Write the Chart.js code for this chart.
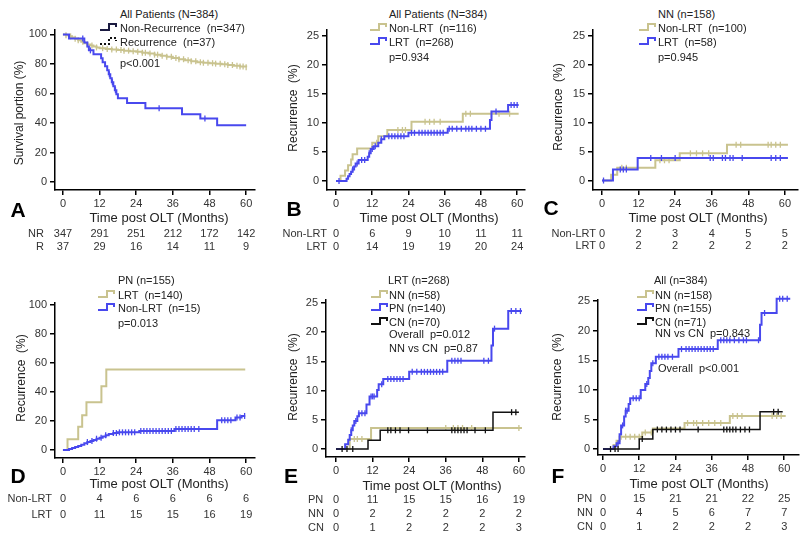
<!DOCTYPE html>
<html>
<head>
<meta charset="utf-8">
<script src="https://cdn.jsdelivr.net/npm/chart.js@4.4.0/dist/chart.umd.min.js"></script>
<style>
    html, body { margin: 0; padding: 0; background: #fff; }
    #page {
        position: relative; width: 800px; height: 536px; overflow: hidden; background: #fff;
        font-family: Arial, "Liberation Sans", sans-serif; color: #222;
    }
    #page canvas { position: absolute; }
    .t { position: absolute; white-space: pre; line-height: 1; }
    .sym { position: absolute; }
</style>
</head>
<body>
<div id="page"></div>
<script>
// ---- 刻度 ----
const monthTicks = [0, 12, 24, 36, 48, 60];
const survivalTicks = [0, 20, 40, 60, 80, 100];
const recurrenceTicks = [0, 5, 10, 15, 20, 25];

// ---- A: 生存曲线 [月, %] ----
const aNonRecurrence = [[0,100],[1,99.4],[2,98.7],[3,97.9],[4,97],[5,96],[6,95],[7,94],[8,93.2],[9,92.5],[10,91.8],[11,91.2],[12,90.7],[14,90.2],[16,89.8],[18,89.4],[20,89],[22,88.6],[24,88.2],[26,87.6],[28,87],[30,86.3],[32,85.5],[34,84.8],[36,84],[38,83.2],[40,82.5],[42,81.8],[44,81.2],[46,80.8],[48,80.5],[50,80.2],[52,79.8],[54,79.3],[56,78.8],[58,78.3],[60,77.8]];
const aNonRecurrenceCensor = [1,2.5,4,5,6.5,8,9.5,11,13,14.5,16,17.5,19,20,21.5,23,24.5,26,27,28.5,30,31,32.5,34,35.5,37,38,39.5,41,42,43.5,45,46,47.5,49,50,51.5,53,54,55.5,57,58,59,60];
const aRecurrence = [[0,100],[2,97.3],[7,94.6],[8,91.9],[8.5,89.2],[10,86.5],[12.5,83.8],[13,81.1],[13.8,78.4],[14.5,75.7],[15,73],[15.5,70.3],[16,67.6],[16.5,64.9],[17,62.2],[17.5,59.5],[18,56.8],[21,53.5],[27,50],[39,46],[45,43],[50.5,38.5],[60,38.5]];
const aRecurrenceCensor = [6.5, 9, 15.2, 16.2, 17.2, 31.5, 46.5];
const riskA_NR = [347, 291, 251, 212, 172, 142];
const riskA_R = [37, 29, 16, 14, 11, 9];

// ---- B: 全部患者 ----
const bNonLrt = [[0,0],[1.5,0.9],[3,1.8],[4,2.7],[5,3.7],[5.5,4.6],[7,5.6],[12,6.6],[14,7.7],[17,8.8],[25,10.2],[42,11.6],[60.5,11.6]];
const bNonLrtCensor = [13.5, 20.5, 22, 23, 29.5, 31, 32.5, 34.5, 43, 44.5, 51.5, 54, 57.5];
const bLrt = [[0,0],[3.5,0.4],[4,0.8],[4.5,1.2],[5,1.6],[5.5,2.0],[6,2.5],[6.5,3.0],[7.5,3.6],[10.5,4.2],[11,4.8],[11.5,5.5],[12.5,6.0],[14,6.6],[15,7.2],[16,7.7],[24,8.3],[37,9.0],[51,10.5],[51.5,12.0],[57,13.1],[60.5,13.1]];
const bLrtCensor = [1,5.5,7,8.5,9.5,11,12,13,15,17.5,18.5,19.5,20.5,21.5,22.5,25,26,27.5,28.5,29.5,30.5,31.5,32.5,33.5,34.5,35.5,37.5,38.5,40,41.5,43,44,45,46.5,48,49.5,53,58,59,60];
const riskB_NonLrt = [0, 6, 9, 10, 11, 11];
const riskB_Lrt = [0, 14, 19, 19, 20, 24];

// ---- C: NN ----
const cNonLrt = [[0,0],[3,1.0],[5,2.2],[17.5,3.5],[25.5,4.7],[41,6.2],[61,6.2]];
const cNonLrtCensor = [6.5, 8, 19, 20.5, 22, 29, 31, 33, 35, 44, 45.5, 54.5, 55.5, 57, 58.5];
const cLrt = [[0,0],[3.6,1.9],[11.7,3.9],[61,3.9]];
const cLrtCensor = [0.5, 6, 7, 8, 16, 19.5, 24, 35.5, 36.5, 39.5, 40.5, 42, 43, 46, 55.5, 57, 58.5];
const riskC_NonLrt = [0, 2, 3, 4, 5, 5];
const riskC_Lrt = [0, 2, 2, 2, 2, 2];

// ---- D: PN ----
const dLrt = [[0,0],[1.5,7.5],[5,16],[6.3,24],[7.7,33],[12.6,44],[14.2,55.5],[59.7,55.5]];
const dNonLrt = [[0,0],[2,0.7],[3,1.4],[4,2.1],[5,2.8],[6,3.6],[7,4.6],[8,5.5],[9,6.2],[10,7],[11,7.8],[12,8.5],[13,9.3],[14,10.2],[15,11],[16.5,11.7],[18,12.2],[25,13.2],[36.5,14.5],[50.5,20.5],[56.5,22.5],[58.5,23.5],[59.7,23.5]];
const dNonLrtCensor = [8,9.5,11,12.5,14,16.5,17.5,18.5,19.5,20.5,21.5,22.5,23.5,25.5,26.5,27.5,28.5,29.5,30.5,31.5,32.5,33.5,34.5,35.5,37,38,39,40,41,42,43,44.5,52,53,54,55,57,58,59.5];
const riskD_NonLrt = [0, 4, 6, 6, 6, 6];
const riskD_Lrt = [0, 11, 15, 15, 16, 19];

// ---- E: LRT ----
const eNN = [[0,0],[4.5,1.7],[11.5,3.6],[61,3.6]];
const eNNCensor = [6, 7, 8.5, 36, 38.5, 40, 41.5, 44.5, 60];
const ePN = [[0,0],[3,0.8],[4,1.6],[4.5,2.4],[5,3.2],[5.5,4.0],[6,4.8],[7,5.6],[7.5,6.1],[10,7.6],[11,9.0],[13.5,10.1],[14,11.1],[15.5,12.0],[24,13.2],[36.5,15.1],[51,17.7],[51.5,20.6],[56.5,23.6],[61,23.6]];
const ePNCensor = [5,6.5,7.5,8.5,9.5,11.5,12,12.5,15,17,18,19,20,21,22,25,26.5,28,29,30,31,32,33,34,35,38,39,40,41,48.5,50,52,57.5,59,60.5];
const eCN = [[0,0],[10.5,1.5],[14.5,3.2],[51.5,6.3],[60,6.3]];
const eCNCensor = [2, 3.6, 5.5, 17, 18, 19.5, 21, 23.8, 30, 38, 39, 40, 41, 42, 43, 45.6, 49, 57.6, 59];
const riskE_PN = [0, 11, 15, 15, 16, 19];
const riskE_NN = [0, 2, 2, 2, 2, 2];
const riskE_CN = [0, 1, 2, 2, 2, 3];

// ---- F: 全部 ----
const fNN = [[0,0],[3.5,0.7],[4.5,1.4],[5.5,2.1],[13,2.8],[16.5,3.5],[27,4.4],[42,5.6],[60.5,5.6]];
const fNNCensor = [6, 7.5, 9, 10.5, 12, 14, 16, 28, 30, 31, 33, 35, 37, 39, 43, 44.5, 46, 56, 57.5, 59];
const fPN = [[0,0],[3.5,0.5],[4.5,1.0],[5.5,2.5],[6,4.0],[7,5.5],[7.5,6.5],[8.5,7.6],[9,8.6],[12.5,10.0],[14,11.0],[15,12.0],[15.5,13.2],[16,14.5],[17.5,15.6],[25,16.9],[38,18.4],[52,21.0],[52.5,23.0],[57.5,25.4],[62,25.4]];
const fPNCensor = [5,6.5,7.5,8,10,11,12,14.5,16.5,18.5,19.5,20.5,21.5,23,26,27.5,28.5,29.5,30.5,31.5,32.5,33.5,34.5,35.5,36.5,39,40,41,42,43.5,45,46.5,47.5,51.5,53.5,58.5,59.5,61];
const fCN = [[0,0],[12,1.7],[16.5,3.3],[52,6.3],[59.5,6.3]];
const fCNCensor = [2.5, 4, 5, 13, 18, 19.5, 21, 22.5, 24, 25.5, 31.5, 40, 41, 42, 43, 44, 45.5, 47, 48.5, 56.5, 58];
const riskF_PN = [0, 15, 21, 21, 22, 25];
const riskF_NN = [0, 4, 5, 6, 7, 7];
const riskF_CN = [0, 1, 2, 2, 2, 3];

// 颜色
const YELLOW = '#c9c38f';
const BLUE = '#4848ee';
const BLACK = '#111111';

const page = document.getElementById('page');
Chart.defaults.font.family = 'Arial, "Liberation Sans", sans-serif';

document.addEventListener('DOMContentLoaded', function() {
    // A
    const chartA = makePanel({ axisX: 55, axisTop: 30, axisBottom: 190, axisRight: 255,
        xMin: -2.6, xMax: 62.9, yMin: -5.4, yMax: 103, yTicks: survivalTicks,
        curves: [
            { points: aNonRecurrence, censor: aNonRecurrenceCensor, color: YELLOW, width: 2 },
            { points: aRecurrence, censor: aRecurrenceCensor, color: BLUE, width: 2 }
        ] });
    addText(19, 113, 'Survival portion (%)', { size: 12, rotate: true });
    addText(120, 14, 'All Patients (N=384)');
    addSymbol(100, 28, '#1a1a40', false);
    addText(120, 28, 'Non-Recurrence  (n=347)');
    addSymbol(100, 42, '#111', true);
    addText(120, 42, 'Recurrence  (n=37)');
    addText(120, 63, 'p<0.001');
    addText(18, 209, 'A', { size: 21, bold: true, align: 'center', color: '#000' });
    addText(159, 217, 'Time post OLT (Months)', { size: 13, align: 'center' });
    riskTable(chartA, 44, [['NR', riskA_NR, 233], ['R', riskA_R, 246]]);

    // B
    const chartB = makePanel({ axisX: 327, axisTop: 30, axisBottom: 190, axisRight: 525,
        xMin: -2.98, xMax: 62.6, yMin: -1.55, yMax: 26.03, yTicks: recurrenceTicks,
        curves: [
            { points: bNonLrt, censor: bNonLrtCensor, color: YELLOW, width: 2 },
            { points: bLrt, censor: bLrtCensor, color: BLUE, width: 2 }
        ] });
    addText(293, 108, 'Recurrence  (%)', { size: 12, rotate: true });
    addText(389, 14, 'All Patients (N=384)');
    addSymbol(370, 28, YELLOW, false);
    addText(389, 28, 'Non-LRT  (n=116)');
    addSymbol(370, 42, BLUE, false);
    addText(389, 42, 'LRT  (n=268)');
    addText(389, 57, 'p=0.934');
    addText(294, 208, 'B', { size: 21, bold: true, align: 'center', color: '#000' });
    addText(429, 217, 'Time post OLT (Months)', { size: 13, align: 'center' });
    riskTable(chartB, 327, [['Non-LRT', riskB_NonLrt, 233], ['LRT', riskB_Lrt, 246]]);

    // C
    const chartC = makePanel({ axisX: 593, axisTop: 30, axisBottom: 190, axisRight: 798,
        xMin: -2.95, xMax: 64.3, yMin: -1.64, yMax: 26.04, yTicks: recurrenceTicks,
        curves: [
            { points: cNonLrt, censor: cNonLrtCensor, color: YELLOW, width: 2 },
            { points: cLrt, censor: cLrtCensor, color: BLUE, width: 2 }
        ] });
    addText(558, 107, 'Recurrence  (%)', { size: 12, rotate: true });
    addText(658, 14, 'NN (n=158)');
    addSymbol(639, 28, YELLOW, false);
    addText(658, 28, 'Non-LRT  (n=100)');
    addSymbol(639, 42, BLUE, false);
    addText(658, 42, 'LRT  (n=58)');
    addText(658, 57, 'p=0.945');
    addText(551, 207, 'C', { size: 21, bold: true, align: 'center', color: '#000' });
    addText(698, 217, 'Time post OLT (Months)', { size: 13, align: 'center' });
    riskTable(chartC, 596, [['Non-LRT', riskC_NonLrt, 233], ['LRT', riskC_Lrt, 245]]);

    // D
    const chartD = makePanel({ axisX: 55, axisTop: 303, axisBottom: 458, axisRight: 255,
        xMin: -2.6, xMax: 62.9, yMin: -5.5, yMax: 101.4, yTicks: survivalTicks,
        curves: [
            { points: dLrt, censor: [], color: YELLOW, width: 2 },
            { points: dNonLrt, censor: dNonLrtCensor, color: BLUE, width: 2 }
        ] });
    addText(21, 378, 'Recurrence  (%)', { size: 12, rotate: true });
    addText(118, 280, 'PN (n=155)');
    addSymbol(98, 295, YELLOW, false);
    addText(118, 295, 'LRT  (n=140)');
    addSymbol(98, 308, BLUE, false);
    addText(118, 308, 'Non-LRT  (n=15)');
    addText(118, 323, 'p=0.013');
    addText(18, 475, 'D', { size: 21, bold: true, align: 'center', color: '#000' });
    addText(159, 483, 'Time post OLT (Months)', { size: 13, align: 'center' });
    riskTable(chartD, 52, [['Non-LRT', riskD_NonLrt, 498], ['LRT', riskD_Lrt, 514]]);

    // E
    const chartE = makePanel({ axisX: 326, axisTop: 300, axisBottom: 457, axisRight: 525,
        xMin: -3.28, xMax: 62, yMin: -1.37, yMax: 25.5, yTicks: recurrenceTicks,
        curves: [
            { points: eNN, censor: eNNCensor, color: YELLOW, width: 2 },
            { points: ePN, censor: ePNCensor, color: BLUE, width: 2 },
            { points: eCN, censor: eCNCensor, color: BLACK, width: 1.5 }
        ] });
    addText(293, 377, 'Recurrence  (%)', { size: 12, rotate: true });
    addText(388, 280, 'LRT (n=268)');
    addSymbol(371, 295, YELLOW, false);
    addText(389, 295, 'NN (n=58)');
    addSymbol(371, 308, BLUE, false);
    addText(389, 308, 'PN (n=140)');
    addSymbol(371, 322, BLACK, false);
    addText(389, 322, 'CN (n=70)');
    addText(389, 334, 'Overall  p=0.012');
    addText(389, 348, 'NN vs CN  p=0.87');
    addText(291, 475, 'E', { size: 21, bold: true, align: 'center', color: '#000' });
    addText(432, 485, 'Time post OLT (Months)', { size: 13, align: 'center' });
    riskTable(chartE, 308, [['PN', riskE_PN, 499], ['NN', riskE_NN, 513], ['CN', riskE_CN, 527]], 'left');

    // F
    const chartF = makePanel({ axisX: 598, axisTop: 300, axisBottom: 455, axisRight: 799,
        xMin: -1.65, xMax: 64.9, yMin: -1.0, yMax: 25.2, yTicks: recurrenceTicks,
        curves: [
            { points: fNN, censor: fNNCensor, color: YELLOW, width: 2 },
            { points: fPN, censor: fPNCensor, color: BLUE, width: 2 },
            { points: fCN, censor: fCNCensor, color: BLACK, width: 1.5 }
        ] });
    addText(557, 377, 'Recurrence  (%)', { size: 12, rotate: true });
    addText(654, 280, 'All (n=384)');
    addSymbol(637, 295, YELLOW, false);
    addText(655, 295, 'NN (n=158)');
    addSymbol(637, 308, BLUE, false);
    addText(655, 308, 'PN (n=155)');
    addSymbol(637, 322, BLACK, false);
    addText(655, 322, 'CN (n=71)');
    addText(655, 333, 'NN vs CN  p=0.843');
    addText(658, 368, 'Overall  p<0.001');
    addText(558, 475, 'F', { size: 21, bold: true, align: 'center', color: '#000' });
    addText(699, 483, 'Time post OLT (Months)', { size: 13, align: 'center' });
    riskTable(chartF, 577, [['PN', riskF_PN, 498], ['NN', riskF_NN, 512], ['CN', riskF_CN, 526]], 'left');
});

// 阶梯函数取值（用于删失标记）
function valueAt(points, t) {
    let v = points[0][1];
    for (let i = 0; i < points.length; i++) {
        if (points[i][0] <= t) v = points[i][1];
    }
    return v;
}

// 创建一个小图
function makePanel(p) {
    const padTop = 10, yAxisW = 40, xAxisH = 25, padRight = 6;
    const left = p.axisX - yAxisW;
    const top = p.axisTop - padTop;
    const w = p.axisRight - left + padRight;
    const h = p.axisBottom - top + xAxisH;

    const canvas = document.createElement('canvas');
    canvas.width = w;
    canvas.height = h;
    canvas.style.left = left + 'px';
    canvas.style.top = top + 'px';
    canvas.style.width = w + 'px';
    canvas.style.height = h + 'px';
    page.appendChild(canvas);

    // 后画的在下面，所以最后反转
    const datasets = [];
    p.curves.forEach(function(c) {
        datasets.push({
            data: c.points.map(function(pt) { return { x: pt[0], y: pt[1] }; }),
            borderColor: c.color,
            borderWidth: c.width,
            stepped: true,
            pointRadius: 0,
            fill: false,
            clip: false
        });
        datasets.push({
            data: c.censor.map(function(t) { return { x: t, y: valueAt(c.points, t) }; }),
            showLine: false,
            borderColor: c.color,
            backgroundColor: c.color,
            pointStyle: 'line',
            rotation: 90,
            pointRadius: 3,
            borderWidth: 1.3,
            clip: false
        });
    });
    datasets.reverse();

    const axisStyle = {
        grid: { drawOnChartArea: false, drawTicks: true, tickLength: 5, color: '#000', lineWidth: 1.5 },
        border: { display: true, color: '#000', width: 1.5 }
    };

    return new Chart(canvas, {
        type: 'line',
        data: { datasets: datasets },
        options: {
            responsive: false,
            animation: false,
            events: [],
            layout: { padding: { top: padTop, right: padRight, left: 0, bottom: 0 } },
            plugins: { legend: { display: false }, tooltip: { enabled: false } },
            scales: {
                x: Object.assign({
                    type: 'linear', min: p.xMin, max: p.xMax,
                    afterFit: function(s) { s.height = xAxisH; },
                    afterBuildTicks: function(s) { s.ticks = monthTicks.map(function(v) { return { value: v }; }); },
                    ticks: { font: { size: 11 }, color: '#333', padding: 2, maxRotation: 0 }
                }, axisStyle),
                y: Object.assign({
                    type: 'linear', min: p.yMin, max: p.yMax,
                    afterFit: function(s) { s.width = yAxisW; },
                    afterBuildTicks: function(s) { s.ticks = p.yTicks.map(function(v) { return { value: v }; }); },
                    ticks: { font: { size: 11 }, color: '#333', padding: 3 }
                }, axisStyle)
            }
        }
    });
}

// 文本
function addText(x, y, str, opts) {
    opts = opts || {};
    const el = document.createElement('div');
    el.className = 't';
    el.textContent = str;
    el.style.left = x + 'px';
    el.style.top = y + 'px';
    el.style.fontSize = (opts.size || 11) + 'px';
    if (opts.bold) el.style.fontWeight = 'bold';
    if (opts.color) el.style.color = opts.color;
    let tx = '0';
    if (opts.align === 'center') tx = '-50%';
    if (opts.align === 'right') tx = '-100%';
    el.style.transform = opts.rotate ? 'translate(-50%,-50%) rotate(-90deg)' : 'translate(' + tx + ',-50%)';
    page.appendChild(el);
}

// 图例里的小阶梯线
function addSymbol(x, y, color, dashed) {
    const ns = 'http://www.w3.org/2000/svg';
    const svg = document.createElementNS(ns, 'svg');
    svg.setAttribute('class', 'sym');
    svg.setAttribute('width', '18');
    svg.setAttribute('height', '10');
    svg.style.left = x + 'px';
    svg.style.top = (y - 6) + 'px';
    const pl = document.createElementNS(ns, 'polyline');
    pl.setAttribute('points', '0,8 9,8 9,2 16,2 16,5');
    pl.setAttribute('fill', 'none');
    pl.setAttribute('stroke', color);
    pl.setAttribute('stroke-width', '2');
    if (dashed) pl.setAttribute('stroke-dasharray', '2,2');
    svg.appendChild(pl);
    page.appendChild(svg);
}

// 风险表，列对齐到 x 轴刻度
function riskTable(chart, labelX, rows, labelAlign) {
    const canvasLeft = parseFloat(chart.canvas.style.left);
    rows.forEach(function(row) {
        addText(labelX, row[2], row[0], { size: 11, align: labelAlign || 'right', color: '#333' });
        monthTicks.forEach(function(m, i) {
            const x = canvasLeft + chart.scales.x.getPixelForValue(m);
            addText(x, row[2], String(row[1][i]), { size: 11, align: 'center', color: '#333' });
        });
    });
}
</script>
</body>
</html>
